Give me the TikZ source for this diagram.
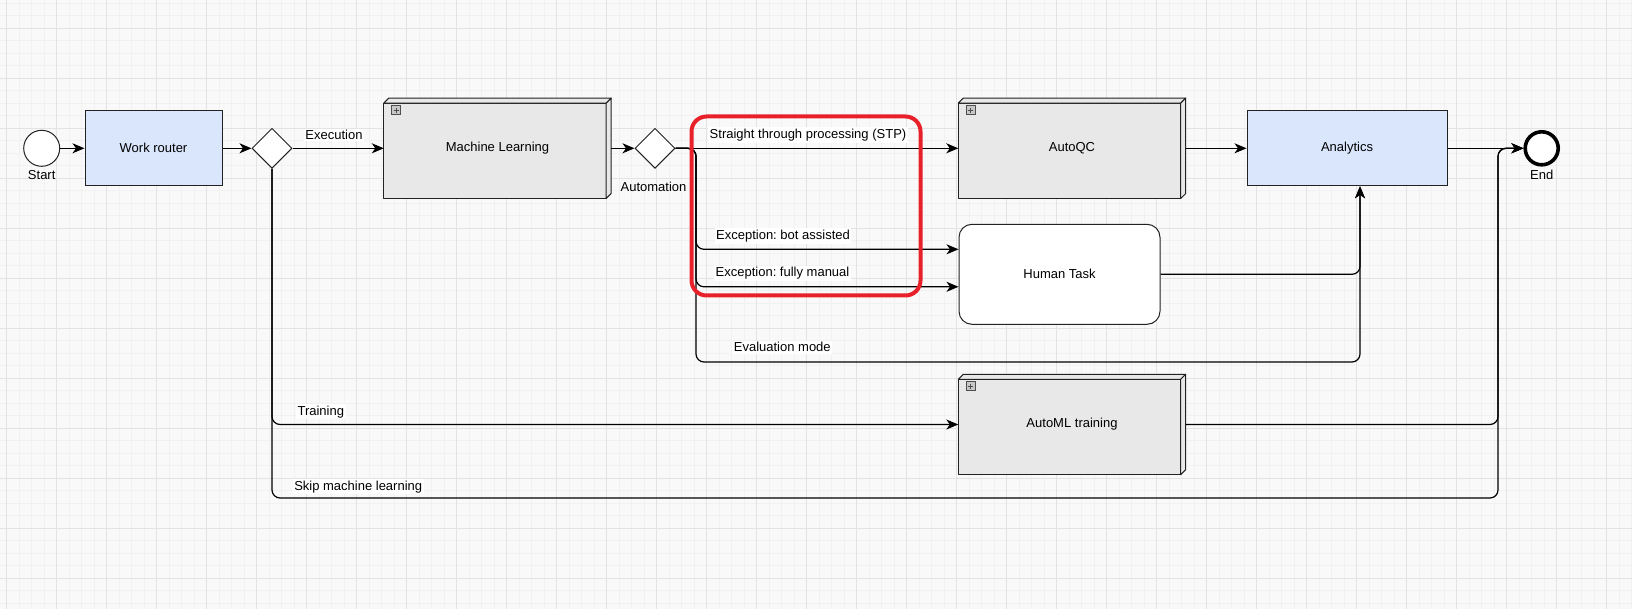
\documentclass[tikz,border=0pt]{standalone}
\usepackage{fontspec}
\setmainfont{Liberation Sans}
\usetikzlibrary{arrows.meta,shapes.geometric,calc,positioning}
\frenchspacing

\definecolor{canvas}{HTML}{F9F9F9}
\definecolor{gridminor}{HTML}{F1F1F1}
\definecolor{gridmajor}{HTML}{E3E3E3}
\definecolor{taskblue}{HTML}{DAE6FC}
\definecolor{subgray}{HTML}{E8E8E8}
\definecolor{edge}{HTML}{222222}
\definecolor{markred}{HTML}{E8202A}

\def\subw{227}
\def\subh{100}
\def\depth{5}

\tikzset{
  flow/.style={draw=black, line width=1.2pt, rounded corners=8pt,
    -{Stealth[length=12pt,width=10pt,inset=3.5pt]}},
  task/.style={draw=edge, fill=taskblue, line width=1pt, minimum height=75pt, inner sep=0pt},
  human/.style={draw=edge, fill=white, line width=1pt, rounded corners=13pt,
    minimum width=201pt, minimum height=100pt},
  subbox/.style={minimum width=\subw pt, minimum height=\subh pt, inner sep=0pt},
  subface/.style={draw=edge, fill=subgray, line width=1pt, line join=round},
  gateway/.style={diamond, draw=edge, fill=white, line width=1pt,
    minimum width=40pt, minimum height=40pt, inner sep=0pt},
  startev/.style={circle, draw=edge, fill=white, line width=1pt, minimum size=36pt, inner sep=0pt},
  endev/.style={circle, draw=black, fill=white, line width=3.6pt, minimum size=33pt, inner sep=0pt},
  lbl/.style={fill=white, inner sep=1.5pt},
  plusbox/.style={draw=edge!80, fill=black!22, line width=0.7pt, minimum size=9pt, inner sep=0pt,
    path picture={\draw[line width=1pt]
      ([xshift=2pt]path picture bounding box.west) -- ([xshift=-2pt]path picture bounding box.east)
      ([yshift=-2pt]path picture bounding box.north) -- ([yshift=2pt]path picture bounding box.south);}}
}

\begin{document}
\begin{tikzpicture}[x=1pt, y=-1pt, font=\fontsize{13}{15}\selectfont]
  \useasboundingbox (0,0) rectangle (1632,609);

  % canvas grid
  \fill[canvas] (0,0) rectangle (1632,609);
  \foreach \k in {0,...,130}
    \draw[gridminor, line width=0.8pt] ({6.7+12.5*\k},0) -- ++(0,609);
  \foreach \k in {0,...,48}
    \draw[gridminor, line width=0.8pt] (0,{3.3+12.5*\k}) -- ++(1632,0);
  \foreach \k in {0,...,32}
    \draw[gridmajor, line width=0.8pt] ({6.7+50*\k},0) -- ++(0,609);
  \foreach \k in {0,...,11}
    \draw[gridmajor, line width=0.8pt] (0,{28.3+50*\k}) -- ++(1632,0);

  % events, tasks, gateways
  \node[startev] (start) at (41.7,148.3) {};
  \node[below=0pt of start] (startlbl) {Start};
  \node[task, minimum width=137pt] (wr) at (153.5,148.3) {Work router};
  \node[gateway] (gw1) at (272,148.3) {};
  \node[gateway] (gw2) at (655,148.3) {};
  \node[task, minimum width=200pt] (an) at (1347,148.3) {Analytics};
  \node[endev] (end) at (1541.7,148.3) {};
  \node[below=0pt of end] (endlbl) {End};
  \node[human] (ht) at (1059.5,274.3) {Human Task};

  % collapsed sub-processes
  \foreach \n/\x/\y/\t in {ml/497.5/148.3/Machine Learning,
      qc/1072/148.3/AutoQC, aml/1072/424.5/AutoML training} {
    \node[subbox] (\n) at (\x,\y) {};
    \draw[subface] ($(\n.north west)+(0,\depth)$) rectangle ($(\n.south east)+(-\depth,0)$);
    \draw[subface] ($(\n.north west)+(0,\depth)$) -- ($(\n.north west)+(\depth,0)$)
      -- (\n.north east) -- ($(\n.north east)+(-\depth,\depth)$) -- cycle;
    \draw[subface] ($(\n.north east)+(-\depth,\depth)$) -- (\n.north east)
      -- ($(\n.south east)+(0,-\depth)$) -- ($(\n.south east)+(-\depth,0)$) -- cycle;
    \node (\n-txt) at (\n.center) {\t};
    \node[plusbox] (\n-plus) at ($(\n.north west)+(12.5,12)$) {};
  }

  % junction points
  \coordinate (split) at (696,148.3);
  \coordinate (merge) at (1498,148.3);
  \coordinate (evalc) at (1360,362);
  \coordinate (skipc) at (272,498);

  % sequence flows
  \draw[flow] (start) -- (wr);
  \draw[flow] (wr) -- (gw1);
  \draw[flow] (gw1) -- (ml);
  \draw[flow] (ml) -- (gw2);
  \draw[flow] (gw2) -- (qc);
  \draw[flow] (qc) -- (an);
  \draw[flow] (an) -- (end);
  \draw[flow] (gw2.east) -- (split) |- ($(ht.west)+(0,-25)$);
  \draw[flow] (gw2.east) -- (split) |- ($(ht.west)+(0,12.5)$);
  \draw[flow] (gw2.east) -- (split) |- (evalc) -- (an.south -| evalc);
  \draw[flow] (ht.east) -| (an.south -| evalc);
  \draw[flow] (gw1.south) |- (aml.west);
  \draw[flow] (gw1.south) -- (skipc) -| (merge) -- (end.west);
  \draw[flow] (aml.east) -| (merge) -- (end.west);

  % flow labels
  \node[lbl] (lexec) at (334,135) {Execution};
  \node (lauto) at (653.5,186.7) {Automation};
  \node[lbl] (lstp) at (808,135) {Straight through processing (STP)};
  \node[lbl] (lbot) at (783,236) {Exception: bot assisted};
  \node[lbl] (lman) at (782.5,273.3) {Exception: fully manual};
  \node[lbl] (leval) at (782.3,347.3) {Evaluation mode};
  \node[lbl] (ltrain) at (320.8,411.7) {Training};
  \node[lbl] (lskip) at (358.2,486.7) {Skip machine learning};

  % highlight
  \draw[markred, line width=4pt, rounded corners=15pt] (691.5,116.5) rectangle (920.5,295.5);
\end{tikzpicture}
\end{document}
